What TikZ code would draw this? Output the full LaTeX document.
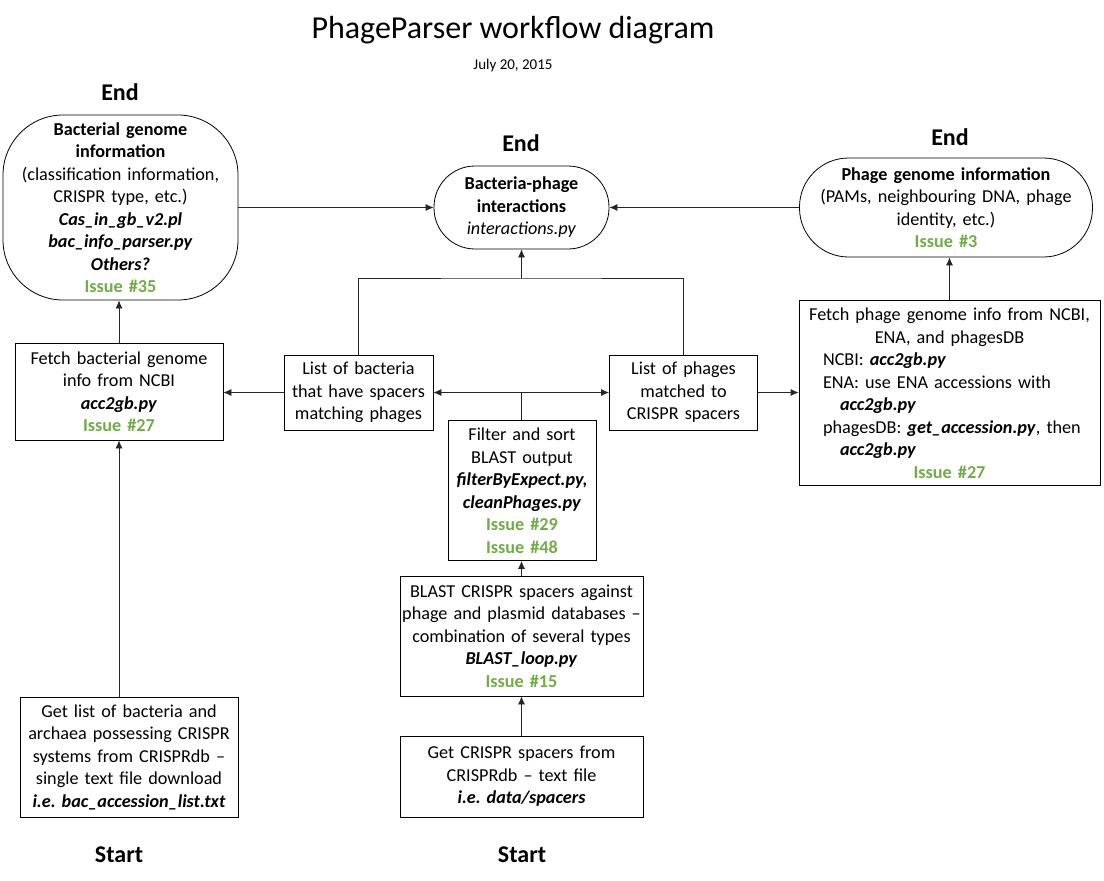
\documentclass[tikz,border=0pt]{standalone}
\usepackage{fontspec}
\setmainfont{Carlito}
\usetikzlibrary{arrows.meta,calc}
\definecolor{issuegreen}{HTML}{70AD47}
\newcommand{\bi}[1]{\textbf{\textit{#1}}}
\newcommand{\iss}[1]{\textcolor{issuegreen}{\textbf{Issue \##1}}}
\newcommand{\fullline}[1]{\makebox[\linewidth][c]{#1}}
\begin{document}
\begin{tikzpicture}[x=1pt,y=-1pt,
  body/.style={font=\fontsize{18.2}{22.5}\selectfont, align=center, inner xsep=3pt, inner ysep=0pt},
  box/.style={body, draw=black, line width=0.8pt, rectangle},
  term/.style={body, draw=black, line width=0.8pt, rectangle},
  lbl/.style={font=\fontsize{24}{26}\selectfont\bfseries},
  arr/.style={-{Latex[length=8pt,width=7pt]}, line width=0.8pt, draw=black!85},
  ln/.style={line width=0.8pt, draw=black!85}]
\useasboundingbox (0,0) rectangle (1104,881);

\node[font=\fontsize{32}{36}\selectfont] (title) at (513,30) {PhageParser workflow diagram};
\node[font=\fontsize{15}{17}\selectfont] (date) at (513,65) {July 20, 2015};

\node[lbl] (endL) at (120,92) {End};
\node[lbl] (endC) at (521,143) {End};
\node[lbl] (endR) at (950,137) {End};
\node[lbl] (startL) at (119,855) {Start};
\node[lbl] (startC) at (522,855) {Start};

\node[term, rounded corners=60pt, text width=229pt, minimum height=185pt] (bacinfo) at (120.5,207.5)
 {\textbf{Bacterial genome}\\\textbf{information}\\\fullline{(classification information,}\\CRISPR type, etc.)\\\bi{Cas\_in\_gb\_v2.pl}\\\bi{bac\_info\_parser.py}\\\bi{Others?}\\\iss{35}};

\node[term, rounded corners=41pt, text width=169pt, minimum height=83pt] (inter) at (521.5,207.5)
 {\textbf{Bacteria-phage}\\\textbf{interactions}\\\textit{interactions.py}};

\node[term, rounded corners=49pt, text width=287pt, minimum height=99pt] (phageinfo) at (946,207.5)
 {\textbf{Phage genome information}\\(PAMs, neighbouring DNA, phage\\identity, etc.)\\\iss{3}};

\node[box, text width=202pt, minimum height=97pt] (fetchbac) at (119,391.5)
 {Fetch bacterial genome\\info from NCBI\\\bi{acc2gb.py}\\\iss{27}};

\node[box, text width=143pt, minimum height=75pt] (listbac) at (358.5,392.5)
 {List of bacteria\\that have spacers\\matching phages};

\node[box, text width=142pt, minimum height=75pt] (listph) at (683.5,392.5)
 {List of phages\\matched to\\CRISPR spacers};

\node[box, align=left, text width=295pt, minimum height=185pt] (fetchph) at (949.5,393)
 {\makebox[295pt][c]{Fetch phage genome info from NCBI,}\\
  \makebox[295pt][c]{ENA, and phagesDB}\\
  \hspace*{21pt}NCBI: \bi{acc2gb.py}\\
  \hspace*{21pt}ENA: use ENA accessions with\\
  \hspace*{38pt}\bi{acc2gb.py}\\
  \hspace*{21pt}phagesDB: \bi{get\_accession.py}, then\\
  \hspace*{38pt}\bi{acc2gb.py}\\
  \makebox[295pt][c]{\iss{27}}};

\node[box, text width=142pt, minimum height=140pt] (filter) at (522,490.5)
 {Filter and sort\\BLAST output\\\bi{filterByExpect.py,}\\\bi{cleanPhages.py}\\\iss{29}\\\iss{48}};

\node[box, text width=237pt, minimum height=120pt] (blast) at (521.5,636)
 {\fullline{BLAST CRISPR spacers against}\\\fullline{phage and plasmid databases --}\\\fullline{combination of several types}\\\bi{BLAST\_loop.py}\\\iss{15}};

\node[box, text width=237pt, minimum height=81pt] (spacers) at (521.5,776.5)
 {Get CRISPR spacers from\\CRISPRdb -- text file\\\bi{i.e.\ data/spacers}};

\node[box, text width=212pt, minimum height=120pt] (getlist) at (129,757)
 {Get list of bacteria and\\\fullline{archaea possessing CRISPR}\\systems from CRISPRdb --\\single text file download\\\bi{i.e.\ bac\_accession\_list.txt}};

\coordinate (bus) at (521.5,278);
\coordinate (split) at (521.5,392.5);

\draw[arr] (bacinfo.east) -- (bacinfo.east -| inter.west);
\draw[arr] (phageinfo.west) -- (phageinfo.west -| inter.east);
\draw[arr] (fetchph.north) -- (fetchph.north |- phageinfo.south);
\draw[arr] (fetchbac.north) -- (fetchbac.north |- bacinfo.south);
\draw[arr] (fetchbac.south |- getlist.north) -- (fetchbac.south);
\draw[arr] (listbac.west) -- (listbac.west -| fetchbac.east);
\draw[arr] (listph.east) -- (listph.east -| fetchph.west);
\draw[ln] (listbac.north) |- (bus) -| (listph.north);
\draw[arr] (bus) -- (bus |- inter.south);
\draw[ln] (filter.north -| split) -- (split);
\draw[arr] (split) -- (listbac.east);
\draw[arr] (split) -- (listph.west);
\draw[arr] (blast.north) -- (blast.north |- filter.south);
\draw[arr] (spacers.north) -- (blast.south);
\end{tikzpicture}
\end{document}
